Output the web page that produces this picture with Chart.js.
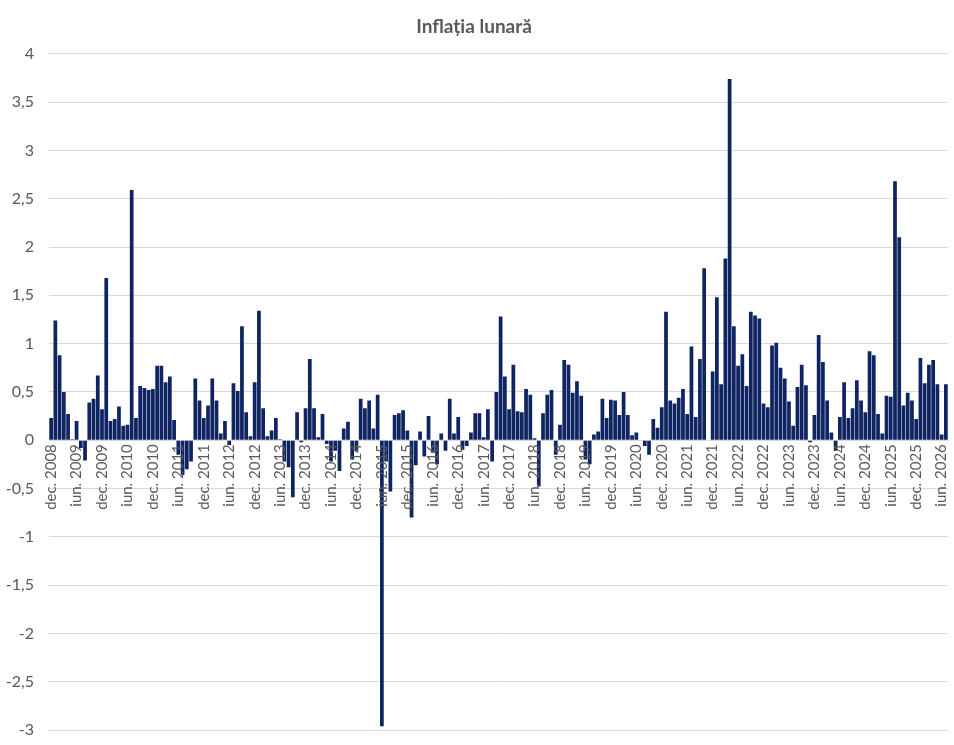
<!DOCTYPE html>
<html lang="ro">
<head>
<meta charset="utf-8">
<title>Inflația lunară</title>
<script src="https://cdn.jsdelivr.net/npm/chart.js@4.4.1/dist/chart.umd.min.js"></script>
<style>
    html, body { margin: 0; padding: 0; background: #ffffff; }
    #wrap { width: 954px; height: 745px; position: relative; }
</style>
</head>
<body>
<div id="wrap"><canvas id="InflationCanvas"></canvas></div>
<script>
const chartTitle = 'Inflația lunară';
const monthNames = ['ian.', 'feb.', 'mar.', 'apr.', 'mai', 'iun.', 'iul.', 'aug.', 'sep.', 'oct.', 'noi.', 'dec.'];
const firstYear = 2008;
const firstMonth = 11;   // dec. 2008
const yMin = -3, yMax = 4, yStep = 0.5;

// monthly inflation (%), one array per year
const infl2008 = [0.23];
const infl2009 = [1.24, 0.88, 0.50, 0.27, 0.01, 0.20, -0.08, -0.21, 0.39, 0.43, 0.67, 0.32];
const infl2010 = [1.68, 0.20, 0.22, 0.35, 0.15, 0.16, 2.59, 0.23, 0.56, 0.54, 0.52, 0.53];
const infl2011 = [0.77, 0.77, 0.60, 0.66, 0.21, -0.15, -0.36, -0.30, -0.22, 0.64, 0.41, 0.23];
const infl2012 = [0.36, 0.64, 0.41, 0.07, 0.20, -0.05, 0.59, 0.51, 1.18, 0.29, 0.04, 0.60];
const infl2013 = [1.34, 0.33, 0.04, 0.10, 0.23, 0.01, -0.22, -0.28, -0.59, 0.29, -0.02, 0.33];
const infl2014 = [0.84, 0.33, 0.03, 0.27, -0.04, -0.22, -0.11, -0.32, 0.12, 0.19, -0.20, -0.11];
const infl2015 = [0.43, 0.33, 0.41, 0.12, 0.47, -2.96, -0.22, -0.53, 0.26, 0.28, 0.31, 0.10];
const infl2016 = [-0.80, -0.26, 0.09, -0.17, 0.25, -0.13, -0.25, 0.07, -0.11, 0.43, 0.07, 0.24];
const infl2017 = [-0.10, -0.06, 0.08, 0.28, 0.28, 0.03, 0.32, -0.22, 0.50, 1.28, 0.66, 0.32];
const infl2018 = [0.78, 0.30, 0.29, 0.53, 0.47, 0.02, -0.48, 0.28, 0.47, 0.52, -0.15, 0.16];
const infl2019 = [0.83, 0.78, 0.49, 0.61, 0.46, -0.20, -0.25, 0.06, 0.09, 0.43, 0.23, 0.42];
const infl2020 = [0.41, 0.26, 0.50, 0.26, 0.05, 0.08, 0.00, -0.06, -0.15, 0.22, 0.13, 0.34];
const infl2021 = [1.33, 0.41, 0.38, 0.44, 0.53, 0.27, 0.97, 0.24, 0.84, 1.78, 0.00, 0.71];
const infl2022 = [1.48, 0.58, 1.88, 3.74, 1.18, 0.77, 0.89, 0.56, 1.33, 1.29, 1.26, 0.38];
const infl2023 = [0.34, 0.98, 1.01, 0.75, 0.64, 0.40, 0.15, 0.55, 0.78, 0.57, -0.02, 0.26];
const infl2024 = [1.09, 0.81, 0.41, 0.08, -0.11, 0.24, 0.60, 0.23, 0.33, 0.62, 0.41, 0.29];
const infl2025 = [0.92, 0.88, 0.27, 0.07, 0.46, 0.45, 2.68, 2.10, 0.36, 0.49, 0.41, 0.22];
const infl2026 = [0.85, 0.59, 0.78, 0.83, 0.58, 0.06, 0.58];

const inflation = [].concat(infl2008, infl2009, infl2010, infl2011, infl2012, infl2013,
    infl2014, infl2015, infl2016, infl2017, infl2018, infl2019, infl2020, infl2021,
    infl2022, infl2023, infl2024, infl2025, infl2026);

// category labels: "dec. 2008", "ian. 2009", ...
const labels = inflation.map((_, i) =>
{
    const m = (firstMonth + i) % 12;
    const y = firstYear + Math.floor((firstMonth + i) / 12);
    return monthNames[m] + ' ' + y;
});

const fontFamily = 'Lato, "Liberation Sans", sans-serif';
const textColor = '#595959';

new Chart(document.getElementById('InflationCanvas').getContext('2d'),
{
    type: 'bar',
    data: {
        labels: labels,
        datasets: [{
            label: chartTitle,
            data: inflation,
            backgroundColor: '#0f2463',
            borderWidth: 0,
            barPercentage: 0.88,
            categoryPercentage: 1
        }]
    },
    options: {
        responsive: true,
        maintainAspectRatio: false,
        animation: false,
        layout: { padding: { left: 0, right: 6, top: 0, bottom: 15 } },
        plugins: {
            legend: { display: false },
            tooltip: { enabled: false },
            title: {
                display: true,
                text: chartTitle,
                color: textColor,
                font: { family: fontFamily, size: 19, weight: 'bold' },
                padding: { top: 15, bottom: 16 }
            }
        },
        scales: {
            x: {
                position: { y: 0 },
                afterFit: (scale) =>
                {
                    // labels hang below the zero line, keep them out of the layout
                    scale.paddingLeft = 0;
                    scale.paddingRight = 0;
                    scale.paddingTop = 0;
                    scale.paddingBottom = 0;
                },
                grid: { display: false, drawTicks: false },
                border: { display: true, color: '#d9d9d9' },
                ticks: {
                    z: 1,
                    autoSkip: false,
                    minRotation: 90,
                    maxRotation: 90,
                    padding: 4,
                    color: textColor,
                    font: { family: fontFamily, size: 15 },
                    callback: function(value, index)
                    {
                        return index % 6 === 0 ? this.getLabelForValue(value) : '';
                    }
                }
            },
            y: {
                min: yMin,
                max: yMax,
                afterFit: (scale) =>
                {
                    scale.width = 49;
                    scale.paddingTop = 0;
                    scale.paddingBottom = 0;
                },
                grid: { color: '#d9d9d9', drawTicks: false },
                border: { display: false },
                ticks: {
                    stepSize: yStep,
                    padding: 15,
                    color: textColor,
                    font: { family: fontFamily, size: 16 },
                    callback: (v) => (Math.round(v * 10) / 10).toString().replace('.', ',')
                }
            }
        }
    }
});
</script>
</body>
</html>
